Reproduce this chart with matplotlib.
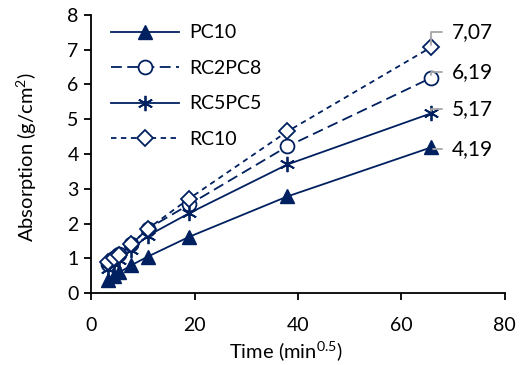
import matplotlib
matplotlib.use("Agg")
import matplotlib.pyplot as plt
import numpy as np

plt.rcParams['font.family'] = ['Lato', 'DejaVu Sans']
plt.rcParams['mathtext.fontset'] = 'custom'
plt.rcParams['mathtext.rm'] = 'Lato'
plt.rcParams['mathtext.it'] = 'Lato'

# time in sqrt(min)
time = np.sqrt([10, 20, 30, 60, 120, 360, 1440, 4320])

pc10 = [0.38, 0.50, 0.60, 0.80, 1.05, 1.62, 2.78, 4.19]
rc2pc8 = [0.85, 1.00, 1.12, 1.40, 1.85, 2.55, 4.22, 6.19]
rc5pc5 = [0.70, 0.85, 0.95, 1.25, 1.65, 2.30, 3.70, 5.17]
rc10 = [0.90, 1.00, 1.10, 1.40, 1.85, 2.72, 4.65, 7.07]

names = ['PC10', 'RC2PC8', 'RC5PC5', 'RC10']
last_labels = ['4,19', '6,19', '5,17', '7,07']

navy = '#002060'

fig = plt.figure(figsize=(5.21, 3.65), dpi=100)
ax = fig.add_axes([0.175, 0.197, 0.794, 0.762])

ax.plot(time, pc10, color=navy, lw=1.3, ls='-', marker='^', ms=10,
        mfc=navy, mec=navy, label=names[0])
ax.plot(time, rc2pc8, color=navy, lw=1.3, ls=(0, (6, 3)), marker='o', ms=10,
        mfc='white', mec=navy, mew=1.3, label=names[1])
ax.plot(time, rc5pc5, color=navy, lw=1.3, ls='-', marker=(6, 2, 0), ms=11,
        mec=navy, mew=1.3, label=names[2])
ax.plot(time, rc10, color=navy, lw=1.3, ls=(0, (3, 2.5)), marker='D', ms=8,
        mfc='white', mec=navy, mew=1.3, label=names[3])

# data labels with grey leader lines
series = [pc10, rc2pc8, rc5pc5, rc10]
offsets = [(15, -1), (15, 4), (15, 3), (15, 11)]
for s, lab, off in zip(series, last_labels, offsets):
    ax.annotate(lab, xy=(time[-1], s[-1]), xytext=off, textcoords='offset points',
                fontsize=15, va='center', ha='left',
                arrowprops=dict(arrowstyle='-', color='#a6a6a6', lw=1.3,
                                shrinkA=5, shrinkB=2,
                                connectionstyle='angle,angleA=0,angleB=90,rad=0',
                                relpos=(0, 0.5)))

ax.set_xlim(0, 80)
ax.set_ylim(0, 8)
ax.set_xticks([0, 20, 40, 60, 80])
ax.set_yticks(range(0, 9))
ax.spines['top'].set_visible(False)
ax.spines['right'].set_visible(False)
ax.tick_params(direction='out', length=5, width=1.3, labelsize=14, pad=4)
ax.tick_params(axis='x', pad=12)
for sp in ['left', 'bottom']:
    ax.spines[sp].set_linewidth(1.3)

ax.set_xlabel(r'Time (min$^{0.5}$)', fontsize=14.5)
ax.set_ylabel(r'Absorption (g/cm$^{2}$)', fontsize=14.5)
ax.xaxis.set_label_coords(0.471, -0.165)
ax.yaxis.set_label_coords(-0.125, 0.489)

ax.legend(loc='upper left', frameon=False, fontsize=14, handlelength=3.5,
          handletextpad=0.5, labelspacing=0.95, borderaxespad=0.3,
          bbox_to_anchor=(0.015, 1.015))

fig.savefig('out.png', dpi=100)
